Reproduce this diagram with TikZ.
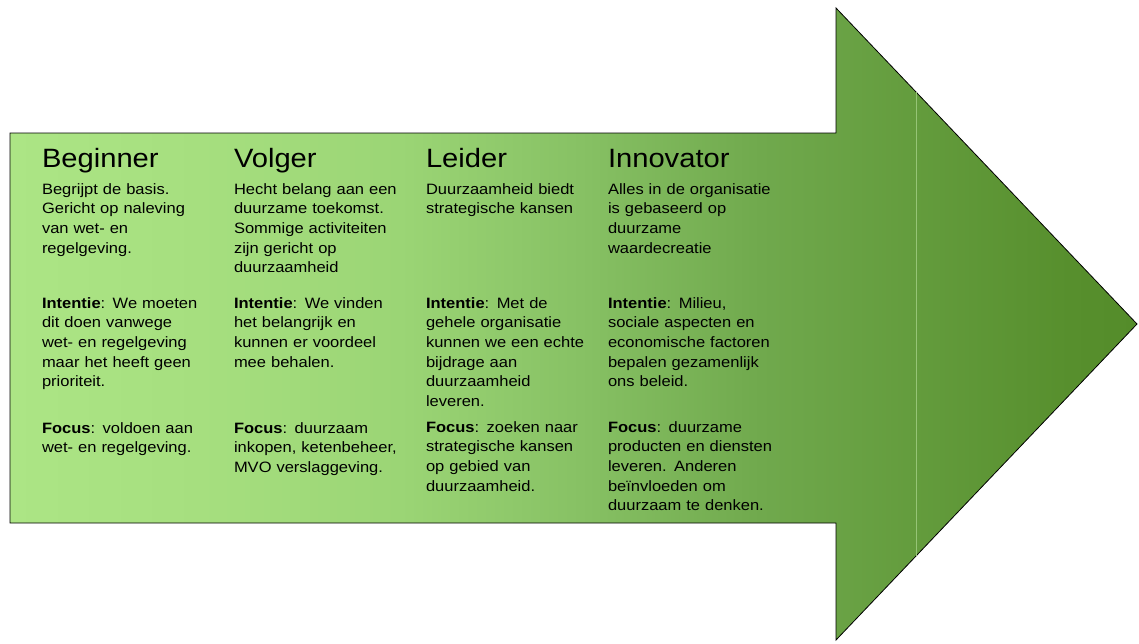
\documentclass[tikz,border=0pt]{standalone}
\usepackage{fontspec}
\setmainfont{Liberation Sans}[FakeStretch=1.1]

\definecolor{g0}{RGB}{172,229,133}
\definecolor{g1}{RGB}{166,223,127}
\definecolor{g2}{RGB}{155,213,117}
\definecolor{g3}{RGB}{135,193,100}
\definecolor{g4}{RGB}{112,169,77}
\definecolor{g5}{RGB}{87,143,45}
\definecolor{g6}{RGB}{84,140,42}
\definecolor{seamc}{RGB}{150,196,118}

\pgfdeclarehorizontalshading{arrowgreen}{100bp}{color(0bp)=(g0); color(25bp)=(g0);
  color(33.4bp)=(g1); color(42.3bp)=(g2); color(50.3bp)=(g3); color(58.3bp)=(g4);
  color(72bp)=(g5); color(75bp)=(g6); color(100bp)=(g6)}

\begin{document}
\begin{tikzpicture}[x=1pt, y=-1pt, inner sep=0pt, outer sep=0pt,
    title/.style={anchor=base west, font=\fontsize{26.5}{30}\selectfont},
    block/.style={anchor=base west, text width=190pt, align=left,
      font=\fontsize{15}{19.7}\selectfont},
    seam/.style={draw=seamc, line width=0.6pt}]
   \useasboundingbox (0,0) rectangle (1139,643);
   % arrow
   \shade[shading=arrowgreen, draw=black, line width=0.8pt]
      (10,133) -- (836,133) -- (836,8) -- (1137,324) -- (836,640)
      -- (836,523) -- (10,523) -- cycle;
   \draw[seam] (916,92) -- (916,556);

   \node[title] (t_1) at (42,167)  {Beginner};
   \node[title] (t_2) at (234,167) {Volger};
   \node[title] (t_3) at (426,167) {Leider};
   \node[title] (t_4) at (608,167) {Innovator};

   \node[block] (d_1) at (42,194)  {Begrijpt de basis.\\Gericht op naleving\\van wet- en\\regelgeving.};
   \node[block] (d_2) at (234,194) {Hecht belang aan een\\duurzame toekomst.\\Sommige activiteiten\\zijn gericht op\\duurzaamheid};
   \node[block] (d_3) at (426,194) {Duurzaamheid biedt\\strategische kansen};
   \node[block] (d_4) at (608,194) {Alles in de organisatie\\is gebaseerd op\\duurzame\\waardecreatie};

   \node[block] (i_1) at (42,308)  {\textbf{Intentie}: We moeten\\dit doen vanwege\\wet- en regelgeving\\maar het heeft geen\\prioriteit.};
   \node[block] (i_2) at (234,308) {\textbf{Intentie}: We vinden\\het belangrijk en\\kunnen er voordeel\\mee behalen.};
   \node[block] (i_3) at (426,308) {\textbf{Intentie}: Met de\\gehele organisatie\\kunnen we een echte\\bijdrage aan\\duurzaamheid\\leveren.};
   \node[block] (i_4) at (608,308) {\textbf{Intentie}: Milieu,\\sociale aspecten en\\economische factoren\\bepalen gezamenlijk\\ons beleid.};

   \node[block] (f_1) at (42,433)  {\textbf{Focus}: voldoen aan\\wet- en regelgeving.};
   \node[block] (f_2) at (234,433) {\textbf{Focus}: duurzaam\\inkopen, ketenbeheer,\\MVO verslaggeving.};
   \node[block] (f_3) at (426,432) {\textbf{Focus}: zoeken naar\\strategische kansen\\op gebied van\\duurzaamheid.};
   \node[block] (f_4) at (608,432) {\textbf{Focus}: duurzame\\producten en diensten\\leveren. Anderen\\beïnvloeden om\\duurzaam te denken.};
\end{tikzpicture}
\end{document}
